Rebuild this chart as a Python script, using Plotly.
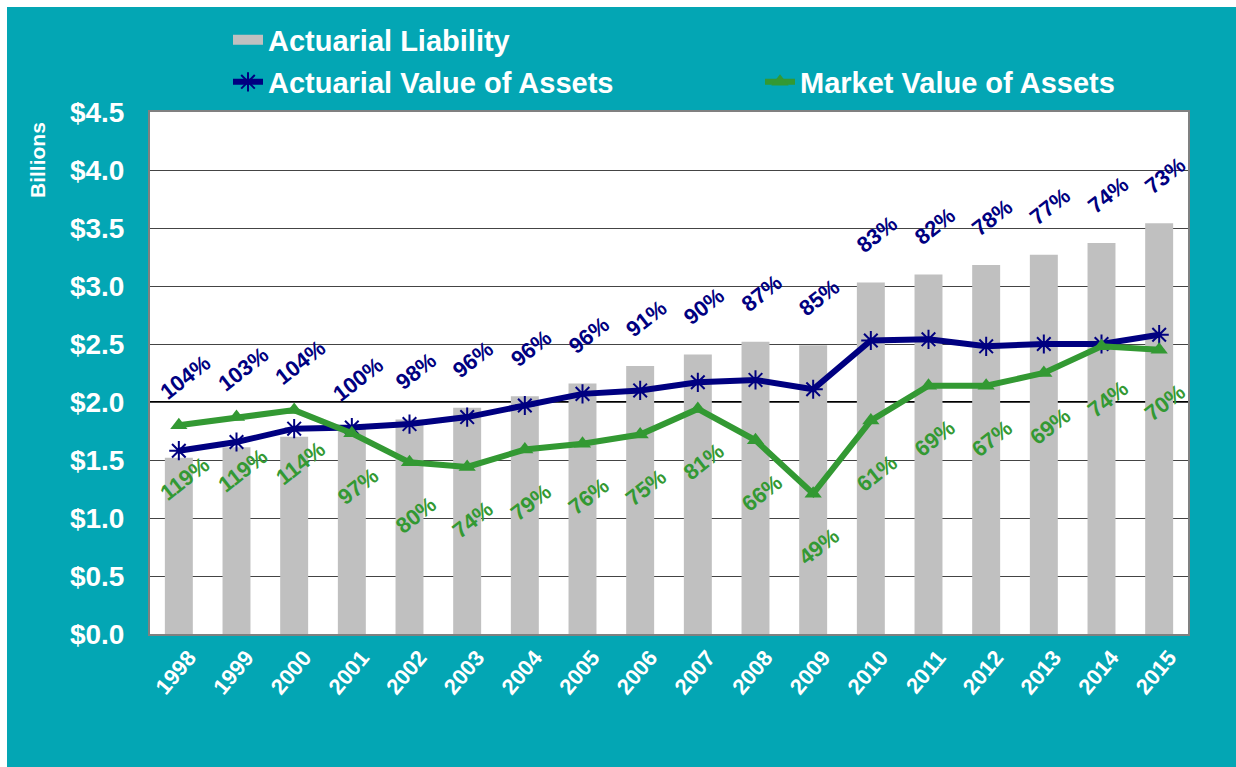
import plotly.graph_objects as go

years = [str(y) for y in range(1998, 2016)]
liability = [1.52, 1.61, 1.70, 1.78, 1.85, 1.95, 2.05, 2.16, 2.31, 2.41, 2.52, 2.49, 3.03, 3.10, 3.18, 3.27, 3.37, 3.54]
ava = [1.58, 1.655, 1.77, 1.78, 1.81, 1.87, 1.97, 2.07, 2.10, 2.17, 2.19, 2.11, 2.53, 2.54, 2.48, 2.50, 2.50, 2.58]
mva = [1.80, 1.87, 1.93, 1.73, 1.48, 1.44, 1.59, 1.64, 1.72, 1.94, 1.67, 1.21, 1.84, 2.14, 2.14, 2.25, 2.48, 2.45]
ava_pct = ["104%", "103%", "104%", "100%", "98%", "96%", "96%", "96%", "91%", "90%", "87%", "85%", "83%", "82%", "78%", "77%", "74%", "73%"]
mva_pct = ["119%", "119%", "114%", "97%", "80%", "74%", "79%", "76%", "75%", "81%", "66%", "49%", "61%", "69%", "67%", "69%", "74%", "70%"]

TEAL = "#03A6B4"
NAVY = "#000080"
GREEN = "#339933"
GRAY = "#C0C0C0"
FONT = "Liberation Sans, Arial, sans-serif"

W, H = 1236, 767
ML, MR, MT, MB = 150, 48, 112, 133
PW, PH = W - ML - MR, H - MT - MB

def px(xp):
    return (xp - ML) / PW

def py(yp):
    return (H - MB - yp) / PH

xi = list(range(len(years)))

fig = go.Figure()

fig.add_trace(go.Bar(x=xi, y=liability, marker=dict(color=GRAY, line=dict(width=0)),
                     showlegend=False, name="Actuarial Liability"))
# legend proxy for bars (wide gray swatch)
fig.add_trace(go.Scatter(x=[None], y=[None], mode="lines", line=dict(color=GRAY, width=13),
                         name="Actuarial Liability", legend="legend"))
fig.add_trace(go.Scatter(x=xi, y=ava, mode="lines+markers", name="Actuarial Value of Assets",
                         line=dict(color=NAVY, width=6),
                         marker=dict(symbol="asterisk-open", size=16, line=dict(color=NAVY, width=2)),
                         legend="legend2"))
fig.add_trace(go.Scatter(x=xi, y=mva, mode="lines+markers", name="Market Value of Assets",
                         line=dict(color=GREEN, width=6),
                         marker=dict(symbol="triangle-up", size=15, color=GREEN),
                         legend="legend3"))

annotations = []
for i in xi:
    top = max(liability[i], ava[i], mva[i])
    annotations.append(dict(x=i, y=top, xref="x", yref="y", text=ava_pct[i], showarrow=False,
                            textangle=-38, yshift=48, xshift=6,
                            font=dict(family=FONT, size=22, color=NAVY, weight="bold")))
    annotations.append(dict(x=i, y=mva[i], xref="x", yref="y", text=mva_pct[i], showarrow=False,
                            textangle=-38, yshift=-53, xshift=6,
                            font=dict(family=FONT, size=22, color=GREEN, weight="bold")))

annotations.append(dict(x=px(37), y=py(160), xref="paper", yref="paper", text="Billions",
                        showarrow=False, textangle=-90, xanchor="center", yanchor="middle",
                        font=dict(family=FONT, size=21, color="white", weight="bold")))

shapes = [
    dict(type="rect", xref="paper", yref="paper", x0=px(7), x1=px(W + 5), y0=py(H + 5), y1=py(7),
         fillcolor=TEAL, line=dict(width=0), layer="below"),
    dict(type="rect", xref="paper", yref="paper", x0=0, x1=1, y0=0, y1=1,
         fillcolor="white", line=dict(width=0), layer="below"),
    dict(type="line", xref="paper", yref="y", x0=0, x1=1, y0=2.0, y1=2.0,
         line=dict(color="black", width=2), layer="below"),
]

legend_font = dict(family=FONT, size=29, color="white", weight="bold")

fig.update_layout(
    width=W, height=H,
    margin=dict(l=ML, r=MR, t=MT, b=MB),
    paper_bgcolor="white", plot_bgcolor="white",
    bargap=0.515,
    annotations=annotations, shapes=shapes,
    legend=dict(x=px(228), y=py(40), xanchor="left", yanchor="middle", orientation="h",
                bgcolor="rgba(0,0,0,0)", font=legend_font),
    legend2=dict(x=px(228), y=py(82), xanchor="left", yanchor="middle", orientation="h",
                 bgcolor="rgba(0,0,0,0)", font=legend_font),
    legend3=dict(x=px(760), y=py(82), xanchor="left", yanchor="middle", orientation="h",
                 bgcolor="rgba(0,0,0,0)", font=legend_font),
    xaxis=dict(range=[-0.5, len(years) - 0.5], tickmode="array", tickvals=xi, ticktext=years,
               tickangle=-50, showgrid=False, showline=True, mirror=True, zeroline=False,
               linecolor="#808080", linewidth=2, ticks="", ticklabelshift=10,
               tickfont=dict(family=FONT, size=22, color="white", weight="bold")),
    yaxis=dict(range=[0, 4.5], dtick=0.5, tickformat="$.1f", showgrid=True, gridcolor="#444444",
               gridwidth=1, showline=True, mirror=True, linecolor="#808080", linewidth=2,
               ticks="", ticklabelstandoff=18, zeroline=False,
               tickfont=dict(family=FONT, size=28, color="white", weight="bold")),
)

fig.write_html("out.html", post_script="document.body.style.margin='0';",
               config={"displayModeBar": False})
